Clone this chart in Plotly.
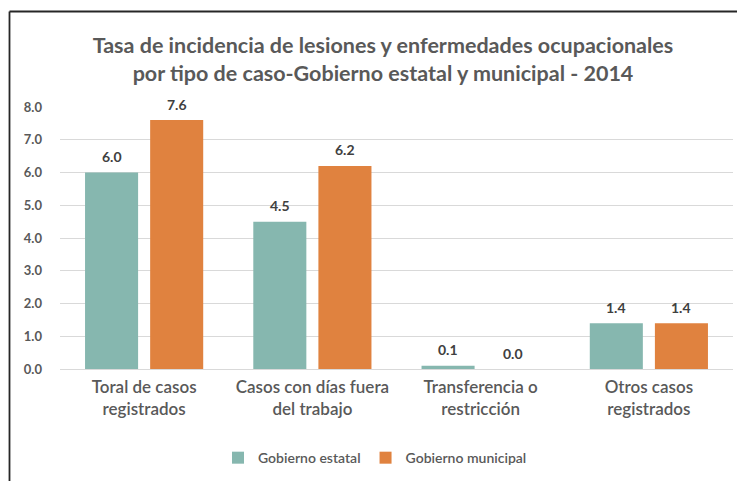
import plotly.graph_objects as go

categories = ["Toral de casos<br>registrados", "Casos con días fuera<br>del trabajo",
              "Transferencia o<br>restricción", "Otros casos<br>registrados"]
estatal = [6.0, 4.5, 0.1, 1.4]
municipal = [7.6, 6.2, 0.0, 1.4]
y_ticks = [0, 1, 2, 3, 4, 5, 6, 7, 8]

# page body has an 8px margin, so the figure is sized to fit the window
W, H = 737, 473
ML, MR, MT, MB = 52, 12, 99, 112
FONT = "Lato"
GREEN = "#86B7AF"
ORANGE = "#E0823F"
TXT = "#595959"
BARGAP, GROUPGAP = 0.226, 0.185

fig = go.Figure()
fig.add_trace(go.Bar(name="Gobierno estatal", x=categories, y=estatal,
                     marker=dict(color=GREEN, line=dict(width=0))))
fig.add_trace(go.Bar(name="Gobierno municipal", x=categories, y=municipal,
                     marker=dict(color=ORANGE, line=dict(width=0))))

# value labels above bars
pw = W - ML - MR
ph = H - MT - MB
slot = pw / len(categories) * (1 - BARGAP) / 2
for vals, sign in ((estatal, -1), (municipal, 1)):
    for c, v in zip(categories, vals):
        fig.add_annotation(x=c, y=v, text="<b>%.1f</b>" % v, showarrow=False,
                           xshift=sign * slot / 2, yshift=16,
                           font=dict(family=FONT, size=14, color="#404040"))

# outer border (top and left edges visible)
x0 = (1.5 - ML) / pw
y1 = 1 + (MT - 3.5) / ph
y0 = -(MB + 5) / ph
fig.add_shape(type="line", xref="paper", yref="paper", x0=x0, x1=x0, y0=y0, y1=y1,
              line=dict(color="#262626", width=1.8))
fig.add_shape(type="line", xref="paper", yref="paper", x0=x0, x1=1 + (MR + 5) / pw, y0=y1, y1=y1,
              line=dict(color="#262626", width=1.8))

fig.update_layout(
    width=W, height=H,
    margin=dict(l=ML, r=MR, t=MT, b=MB, autoexpand=False),
    paper_bgcolor="white", plot_bgcolor="white",
    barmode="group", bargap=BARGAP, bargroupgap=GROUPGAP,
    title=dict(text="<b>Tasa de incidencia de lesiones y enfermedades ocupacionales<br>"
                    "por tipo de caso-Gobierno estatal y municipal - 2014</b>",
               x=375 / W, xref="container", xanchor="center",
               y=1 - 45 / H, yanchor="middle",
               font=dict(family=FONT, size=21.5, color=TXT)),
    font=dict(family=FONT, color=TXT),
    legend=dict(orientation="h", x=(367 - ML) / pw, xanchor="center", xref="paper",
                y=-0.34, yanchor="middle",
                font=dict(family=FONT, size=14, color=TXT, weight=600),
                traceorder="normal", itemwidth=30),
    xaxis=dict(showgrid=False, showline=False, ticks="", ticklabelstandoff=6,
               tickfont=dict(family=FONT, size=17, color=TXT, weight=600)),
    yaxis=dict(range=[0, 8], tickvals=y_ticks, tickformat=".1f",
               showgrid=True, gridcolor="#D9D9D9", gridwidth=1,
               zeroline=True, zerolinecolor="#D9D9D9", zerolinewidth=1,
               ticklabelstandoff=17,
               tickfont=dict(family=FONT, size=13, color=TXT, weight="bold")),
)

fig.write_html("out.html")
